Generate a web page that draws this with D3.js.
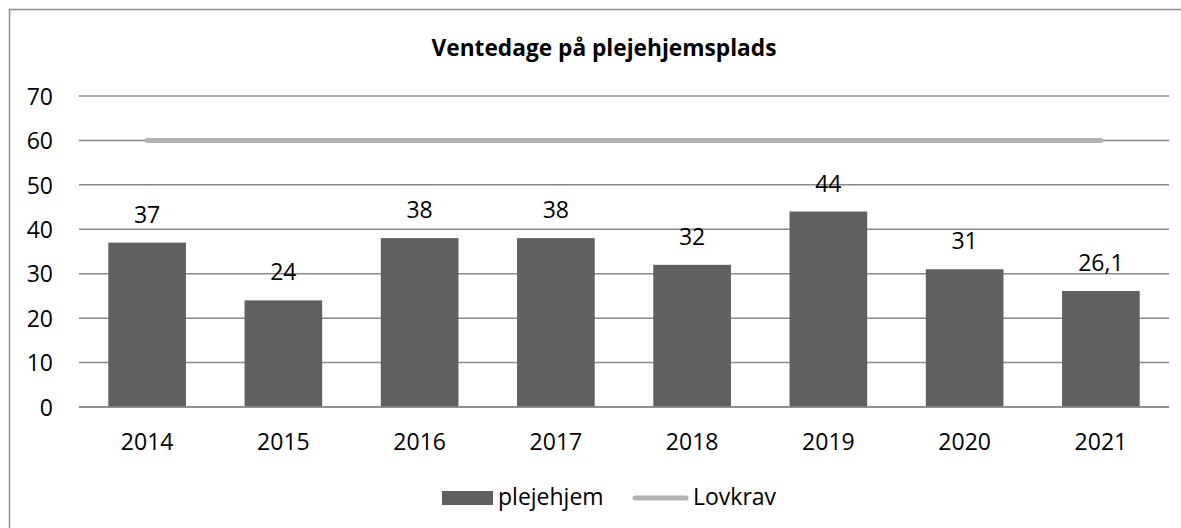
<!DOCTYPE html>
<html>
<head>
<meta charset="utf-8">
<script src="https://cdn.jsdelivr.net/npm/d3@7"></script>
<style>
  body { margin: 0; background: #fff; }
  svg { display: block; font-family: "Open Sans", Lato, sans-serif; }
</style>
</head>
<body>
<div id="chart"></div>
<script>
// data
var years = ["2014", "2015", "2016", "2017", "2018", "2019", "2020", "2021"];
var plejehjem = [37, 24, 38, 38, 32, 44, 31, 26.1];
var lovkrav = [60, 60, 60, 60, 60, 60, 60, 60];
var yTicks = [0, 10, 20, 30, 40, 50, 60, 70];
var titleText = "Ventedage på plejehjemsplads";
var legendNames = ["plejehjem", "Lovkrav"];

var width = 1181, height = 528;
var barColor = "#606060", lineColor = "#b3b3b3", gridColor = "#8a8a8a";
var fontFam = "'Open Sans', sans-serif";
var labelSize = 23;

var svg = d3.select("#chart").append("svg")
    .attr("width", width)
    .attr("height", height);

// outer chart box (runs off the right and bottom edge)
svg.append("rect")
    .attr("x", 9.5).attr("y", 9.5)
    .attr("width", 1200).attr("height", 560)
    .attr("fill", "none")
    .attr("stroke", "#8c8c8c")
    .attr("stroke-width", 1.5);

var plot = {left: 79, right: 1169, top: 96, bottom: 407};

var x = d3.scaleBand()
    .domain(years)
    .range([plot.left, plot.right])
    .paddingInner(0.43)
    .paddingOuter(0.215);

var y = d3.scaleLinear()
    .domain([0, 70])
    .range([plot.bottom, plot.top]);

// title
svg.append("text")
    .attr("x", 604).attr("y", 56)
    .attr("text-anchor", "middle")
    .attr("font-size", 22.7)
    .attr("font-weight", "bold")
    .attr("fill", "#000")
    .text(titleText);

// gridlines
svg.append("g").selectAll("line")
    .data(yTicks)
    .enter().append("line")
    .attr("x1", plot.left).attr("x2", plot.right)
    .attr("y1", function(d) { return y(d); })
    .attr("y2", function(d) { return y(d); })
    .attr("stroke", gridColor)
    .attr("stroke-width", 1.5);

// y axis labels
var yAxis = d3.axisLeft(y).tickValues(yTicks).tickSize(0).tickPadding(0);
var yg = svg.append("g")
    .attr("transform", "translate(53,0)")
    .call(yAxis);
yg.select(".domain").remove();
yg.selectAll("text")
    .attr("font-size", labelSize)
    .attr("font-family", fontFam)
    .attr("fill", "#000")
    .attr("dy", "0.36em");

// bars
svg.append("g").selectAll("rect")
    .data(plejehjem)
    .enter().append("rect")
    .attr("x", function(d, i) { return x(years[i]); })
    .attr("y", function(d) { return y(d); })
    .attr("width", x.bandwidth())
    .attr("height", function(d) { return y(0) - y(d); })
    .attr("fill", barColor);

// bar value labels
svg.append("g").selectAll("text")
    .data(plejehjem)
    .enter().append("text")
    .attr("x", function(d, i) { return x(years[i]) + x.bandwidth() / 2; })
    .attr("y", function(d) { return y(d) - 20; })
    .attr("text-anchor", "middle")
    .attr("font-size", labelSize)
    .attr("fill", "#000")
    .text(function(d) { return String(d).replace(".", ","); });

// baseline over bars
svg.append("line")
    .attr("x1", plot.left).attr("x2", plot.right)
    .attr("y1", y(0)).attr("y2", y(0))
    .attr("stroke", gridColor)
    .attr("stroke-width", 1.5);

// Lovkrav line
var line = d3.line()
    .x(function(d, i) { return x(years[i]) + x.bandwidth() / 2; })
    .y(function(d) { return y(d); });

svg.append("path")
    .datum(lovkrav)
    .attr("d", line)
    .attr("fill", "none")
    .attr("stroke", lineColor)
    .attr("stroke-width", 5)
    .attr("stroke-linecap", "round");

// x axis labels
var xAxis = d3.axisBottom(x).tickSize(0).tickPadding(0);
var xg = svg.append("g")
    .attr("transform", "translate(0,450)")
    .call(xAxis);
xg.select(".domain").remove();
xg.selectAll("text")
    .attr("font-size", labelSize)
    .attr("font-family", fontFam)
    .attr("fill", "#000")
    .attr("dy", 0);

// legend
var lg = svg.append("g");
lg.append("rect")
    .attr("x", 442).attr("y", 491)
    .attr("width", 51).attr("height", 14)
    .attr("fill", barColor);
lg.append("text")
    .attr("x", 498).attr("y", 505)
    .attr("font-size", labelSize)
    .attr("fill", "#000")
    .text(legendNames[0]);
lg.append("line")
    .attr("x1", 635).attr("x2", 686)
    .attr("y1", 498).attr("y2", 498)
    .attr("stroke", lineColor)
    .attr("stroke-width", 5)
    .attr("stroke-linecap", "round");
lg.append("text")
    .attr("x", 693).attr("y", 505)
    .attr("font-size", labelSize)
    .attr("fill", "#000")
    .text(legendNames[1]);
</script>
</body>
</html>
